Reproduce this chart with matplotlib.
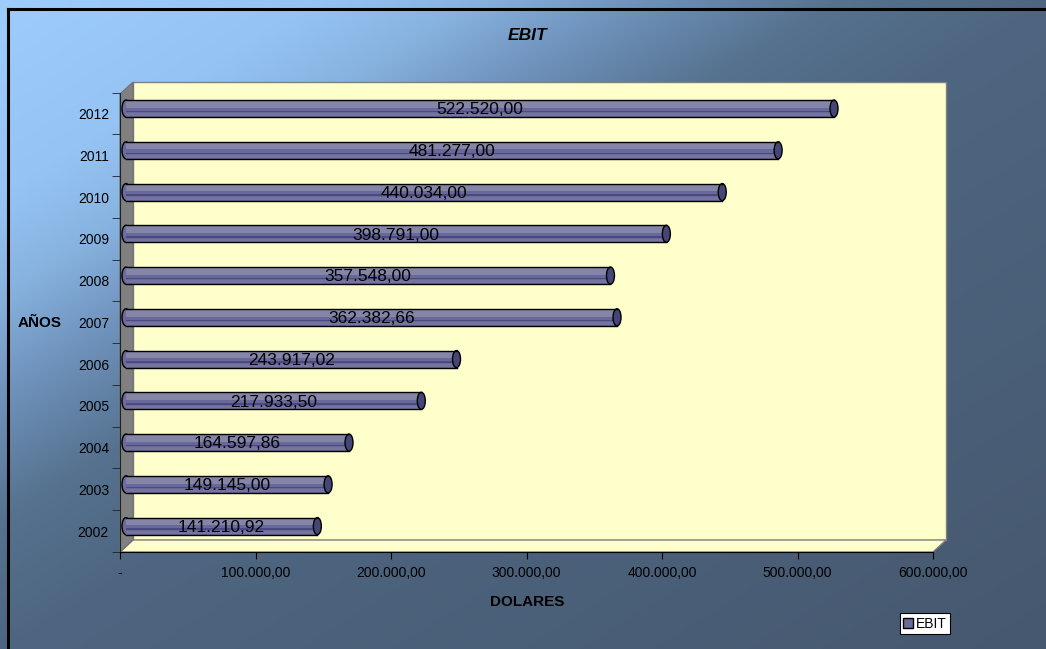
import numpy as np
import matplotlib.pyplot as plt
from matplotlib.patches import Rectangle, Ellipse, Polygon, Patch
from matplotlib.transforms import ScaledTranslation
from matplotlib.colors import to_rgb

plt.rcParams['font.family'] = ['Liberation Sans', 'DejaVu Sans']

# data
years = ['2002', '2003', '2004', '2005', '2006', '2007', '2008', '2009', '2010', '2011', '2012']
ebit = [141210.92, 149145.00, 164597.86, 217933.50, 243917.02, 362382.66,
        357548.00, 398791.00, 440034.00, 481277.00, 522520.00]
xticks = [0, 100000, 200000, 300000, 400000, 500000, 600000]
xlabels = ['-', '100.000,00', '200.000,00', '300.000,00', '400.000,00', '500.000,00', '600.000,00']


def fmt(v):
    s = f"{v:,.2f}"
    return s.replace(',', 'X').replace('.', ',').replace('X', '.')


W, H = 1046, 649
fig = plt.figure(figsize=(W / 100, H / 100), dpi=100)

# background gradient (pixel coords)
bg = fig.add_axes([0, 0, 1, 1], zorder=-10)
xx, yy = np.meshgrid(np.linspace(0, 1, W), np.linspace(0, 1, H))
t = xx + yy
stops = [0, 0.3, 0.45, 0.6, 0.8, 1.0, 2.0]
cols = [to_rgb(c) for c in ['#9dcdfd', '#95c4f4', '#88b3e0', '#7094be', '#56728f', '#4e6681', '#46586f']]
img = np.dstack([np.interp(t, stops, [c[i] for c in cols]) for i in range(3)])
bg.imshow(img, extent=[0, W, H, 0], aspect='auto')
bg.set_xlim(0, W)
bg.set_ylim(H, 0)
bg.axis('off')

# walls
bg.add_patch(Polygon([(133, 82), (946, 82), (946, 540), (133, 540)], closed=True,
                     facecolor='#ffffcc', edgecolor='#808080', lw=1))
bg.add_patch(Polygon([(120, 552), (133, 540), (946, 540), (933, 552)], closed=True,
                     facecolor='#ffffcc', edgecolor='#808080', lw=1))
bg.add_patch(Polygon([(120, 94), (133, 82), (133, 540), (120, 552)], closed=True,
                     facecolor='#808080', edgecolor='#707070', lw=0.8))
# outer border
bg.plot([7.5, 7.5], [H, 8.5], color='black', lw=2.2, solid_capstyle='projecting')
bg.plot([7.5, W], [8.5, 8.5], color='black', lw=2.2, solid_capstyle='projecting')

ax = fig.add_axes([120 / W, 97 / H, 813 / W, 459.3 / H])
ax.set_xlim(0, 600000)
ax.set_ylim(-0.5, 10.5)
ax.patch.set_alpha(0)
for s in ['top', 'right']:
    ax.spines[s].set_visible(False)
ax.spines['left'].set_color('#222222')
ax.spines['bottom'].set_color('black')

off = ax.transData + ScaledTranslation(0.06, 0.05, fig.dpi_scale_trans)
h = 0.41
capw = 5900
for i, v in enumerate(ebit):
    y = i
    ax.add_patch(Ellipse((0, y), capw, h, facecolor='#6c6c9a', edgecolor='black', lw=1,
                         transform=off, clip_on=False))
    ax.add_patch(Rectangle((0, y - h / 2), v, h, facecolor='#68689a', edgecolor='none',
                           transform=off, clip_on=False))
    ax.add_patch(Rectangle((0, y + 0.02), v, h / 2 - 0.04, facecolor='#8585a8', edgecolor='none',
                           transform=off, clip_on=False))
    ax.add_patch(Rectangle((0, y - 0.09), v, 0.035, facecolor='#4a4a80', edgecolor='none',
                           transform=off, clip_on=False))
    ax.add_patch(Rectangle((0, y - h / 2 + 0.02), v, 0.07, facecolor='#74749f', edgecolor='none',
                           transform=off, clip_on=False))
    ax.plot([0, v], [y + h / 2, y + h / 2], color='black', lw=1, transform=off, clip_on=False)
    ax.plot([0, v], [y - h / 2, y - h / 2], color='black', lw=1, transform=off, clip_on=False)
    ax.add_patch(Ellipse((v, y), capw, h, facecolor='#464676', edgecolor='black', lw=1,
                         transform=off, clip_on=False))
    ax.text(v / 2, y - 0.03, fmt(v), ha='center', va='center', fontsize=12.5, color='black',
            transform=off)

ax.set_yticks(range(len(years)))
ax.set_yticklabels(years, fontsize=10)
ax.set_yticks(np.arange(-0.5, 11, 1), minor=True)
ax.tick_params(axis='y', which='major', length=0, pad=8)
ax.tick_params(axis='y', which='minor', length=6, direction='out', color='#222222')
ax.set_xticks(xticks)
ax.set_xticklabels(xlabels, fontsize=10)
ax.tick_params(axis='x', length=5, direction='out', pad=5)

fig.text(527 / W, 1 - 35 / H, 'EBIT', ha='center', va='center', fontsize=12.5,
         fontweight='bold', fontstyle='italic')
fig.text(40 / W, 1 - 323 / H, 'AÑOS', ha='center', va='center', fontsize=11, fontweight='bold')
fig.text(527 / W, 1 - 602 / H, 'DOLARES', ha='center', va='center', fontsize=11, fontweight='bold')

leg = fig.legend(handles=[Patch(facecolor='#6b6b9b', edgecolor='black', label='EBIT')],
                 loc='lower left', bbox_to_anchor=(900 / W, 1 - 634 / H), fontsize=10,
                 frameon=True, fancybox=False, framealpha=1, edgecolor='black',
                 borderpad=0.25, handlelength=0.7, handleheight=0.7, handletextpad=0.2,
                 borderaxespad=0)
leg.get_frame().set_linewidth(0.8)

fig.savefig('out.png', dpi=100)
